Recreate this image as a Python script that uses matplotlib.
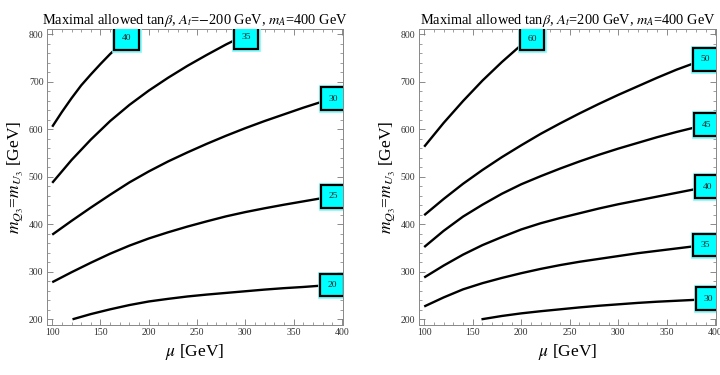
import matplotlib
matplotlib.use('Agg')
import matplotlib.pyplot as plt
import matplotlib.patheffects as pe
from matplotlib.ticker import MultipleLocator

# Left panel: A_t = -200 GeV, contours of max tan(beta) in (mu, mQ3) plane
left_levels = ['40', '35', '30', '25', '20']
left_mu = [
    [100, 110, 120, 130, 140, 150, 160, 170, 177],
    [100, 120, 140, 160, 180, 200, 220, 240, 260, 280, 301],
    [100, 120, 140, 160, 180, 200, 220, 240, 260, 280, 300, 320, 340, 360, 380, 391],
    [100, 120, 140, 160, 180, 200, 220, 240, 260, 280, 300, 320, 340, 360, 380, 391],
    [121, 140, 160, 180, 200, 220, 240, 260, 280, 300, 320, 340, 360, 380, 391],
]
left_mq = [
    [605, 636, 665, 692, 715, 737, 758, 777, 790],
    [487, 535, 578, 617, 651, 681, 708, 733, 756, 778, 799],
    [378, 407, 435, 462, 488, 511, 532, 551, 569, 586, 602, 617, 631, 645, 658, 664],
    [278, 299, 319, 338, 355, 370, 383, 395, 406, 416.5, 425.5, 433.5, 441, 448, 455, 459],
    [200, 211, 221, 230, 237.5, 243, 248, 252, 255.5, 259, 262.5, 265.5, 268, 271, 272],
]
left_lab_mu = [177, 301, 391, 391, 390]
left_lab_mq = [791, 793, 664, 459, 272]

# Right panel: A_t = +200 GeV
right_levels = ['60', '50', '45', '40', '35', '30']
right_mu = [
    [100, 120, 140, 160, 180, 200, 211],
    [100, 120, 140, 160, 180, 200, 220, 240, 260, 280, 300, 320, 340, 360, 380, 390],
    [100, 120, 140, 160, 180, 200, 220, 240, 260, 280, 300, 320, 340, 360, 380, 391],
    [100, 120, 140, 160, 180, 200, 220, 240, 260, 280, 300, 320, 340, 360, 380, 392],
    [100, 120, 140, 160, 180, 200, 220, 240, 260, 280, 300, 320, 340, 360, 380, 390],
    [159, 180, 200, 220, 240, 260, 280, 300, 320, 340, 360, 380, 394],
]
right_mq = [
    [563, 613, 659, 702, 741, 777, 795],
    [419, 453, 485, 514, 541, 566, 590, 612, 633, 653, 672, 690, 708, 725, 740, 746],
    [352, 386, 416, 441, 464, 484, 501, 517, 532, 546, 559, 571, 583, 594, 604, 609],
    [288, 313, 336, 356, 373, 389, 402, 413, 423, 433, 442, 450, 458, 466, 474, 479],
    [227, 246, 263, 276, 287, 297, 306, 314, 321, 327, 333, 339, 344, 349, 354, 356],
    [200, 207, 212.5, 217, 221, 225, 228.5, 231.5, 234.5, 237, 239, 241, 243],
]
right_lab_mu = [211, 390, 391, 392, 390, 393]
right_lab_mq = [790, 747, 609, 479, 356, 243]

titles = [r'Maximal allowed tan$\beta$, $A_t$=$-$200 GeV, $m_A$=400 GeV',
          r'Maximal allowed tan$\beta$, $A_t$=200 GeV, $m_A$=400 GeV']

plt.rcParams['font.family'] = ['Liberation Serif', 'DejaVu Serif']
plt.rcParams['mathtext.fontset'] = 'stix'


def draw_panel(ax, levels, mus, mqs, lab_mu, lab_mq, title):
    for xs, ys in zip(mus, mqs):
        ax.plot(xs, ys, color='black', lw=1.7, solid_capstyle='butt',
                solid_joinstyle='round', zorder=2)

    # contour labels: cyan boxes with black frame
    for lev, lx, ly in zip(levels, lab_mu, lab_mq):
        t = ax.text(lx, ly, lev, fontsize=6.8, ha='center', va='center',
                    color='#222222', zorder=4, clip_on=True,
                    bbox=dict(boxstyle='square,pad=0.78', fc='#00ffff', ec='black', lw=1.6))
        t.get_bbox_patch().set_path_effects(
            [pe.Stroke(linewidth=3.4, foreground='#7ffcfc'), pe.Normal()])

    ax.set_xlim(94.6, 401.2)
    ax.set_ylim(188, 810.5)
    ax.xaxis.set_major_locator(MultipleLocator(50))
    ax.xaxis.set_minor_locator(MultipleLocator(10))
    ax.yaxis.set_major_locator(MultipleLocator(100))
    ax.yaxis.set_minor_locator(MultipleLocator(20))
    ax.tick_params(which='both', direction='in', top=True, right=True,
                   color='#777777', labelsize=7, labelcolor='#333333', pad=2.5)
    ax.tick_params(which='major', length=4, width=0.6)
    ax.tick_params(which='minor', length=2, width=0.5)
    for s in ax.spines.values():
        s.set_color('#888888')
        s.set_linewidth(0.7)

    ax.set_title(title, fontsize=10.4, pad=3)
    ax.set_xlabel(r'$\mu$ [GeV]', fontsize=12.5, labelpad=3)
    ax.set_ylabel(r'$m_{Q_3}$=$m_{U_3}$ [GeV]', fontsize=12.5, labelpad=3)


def main():
    fig = plt.figure(figsize=(7.2, 3.75), dpi=100)
    ax1 = fig.add_axes([0.0653, 0.1333, 0.4111, 0.7893])
    ax2 = fig.add_axes([0.5819, 0.1333, 0.4132, 0.7893])

    draw_panel(ax1, left_levels, left_mu, left_mq, left_lab_mu, left_lab_mq, titles[0])
    draw_panel(ax2, right_levels, right_mu, right_mq, right_lab_mu, right_lab_mq, titles[1])

    fig.savefig('out.png', dpi=100)


if __name__ == '__main__':
    main()
